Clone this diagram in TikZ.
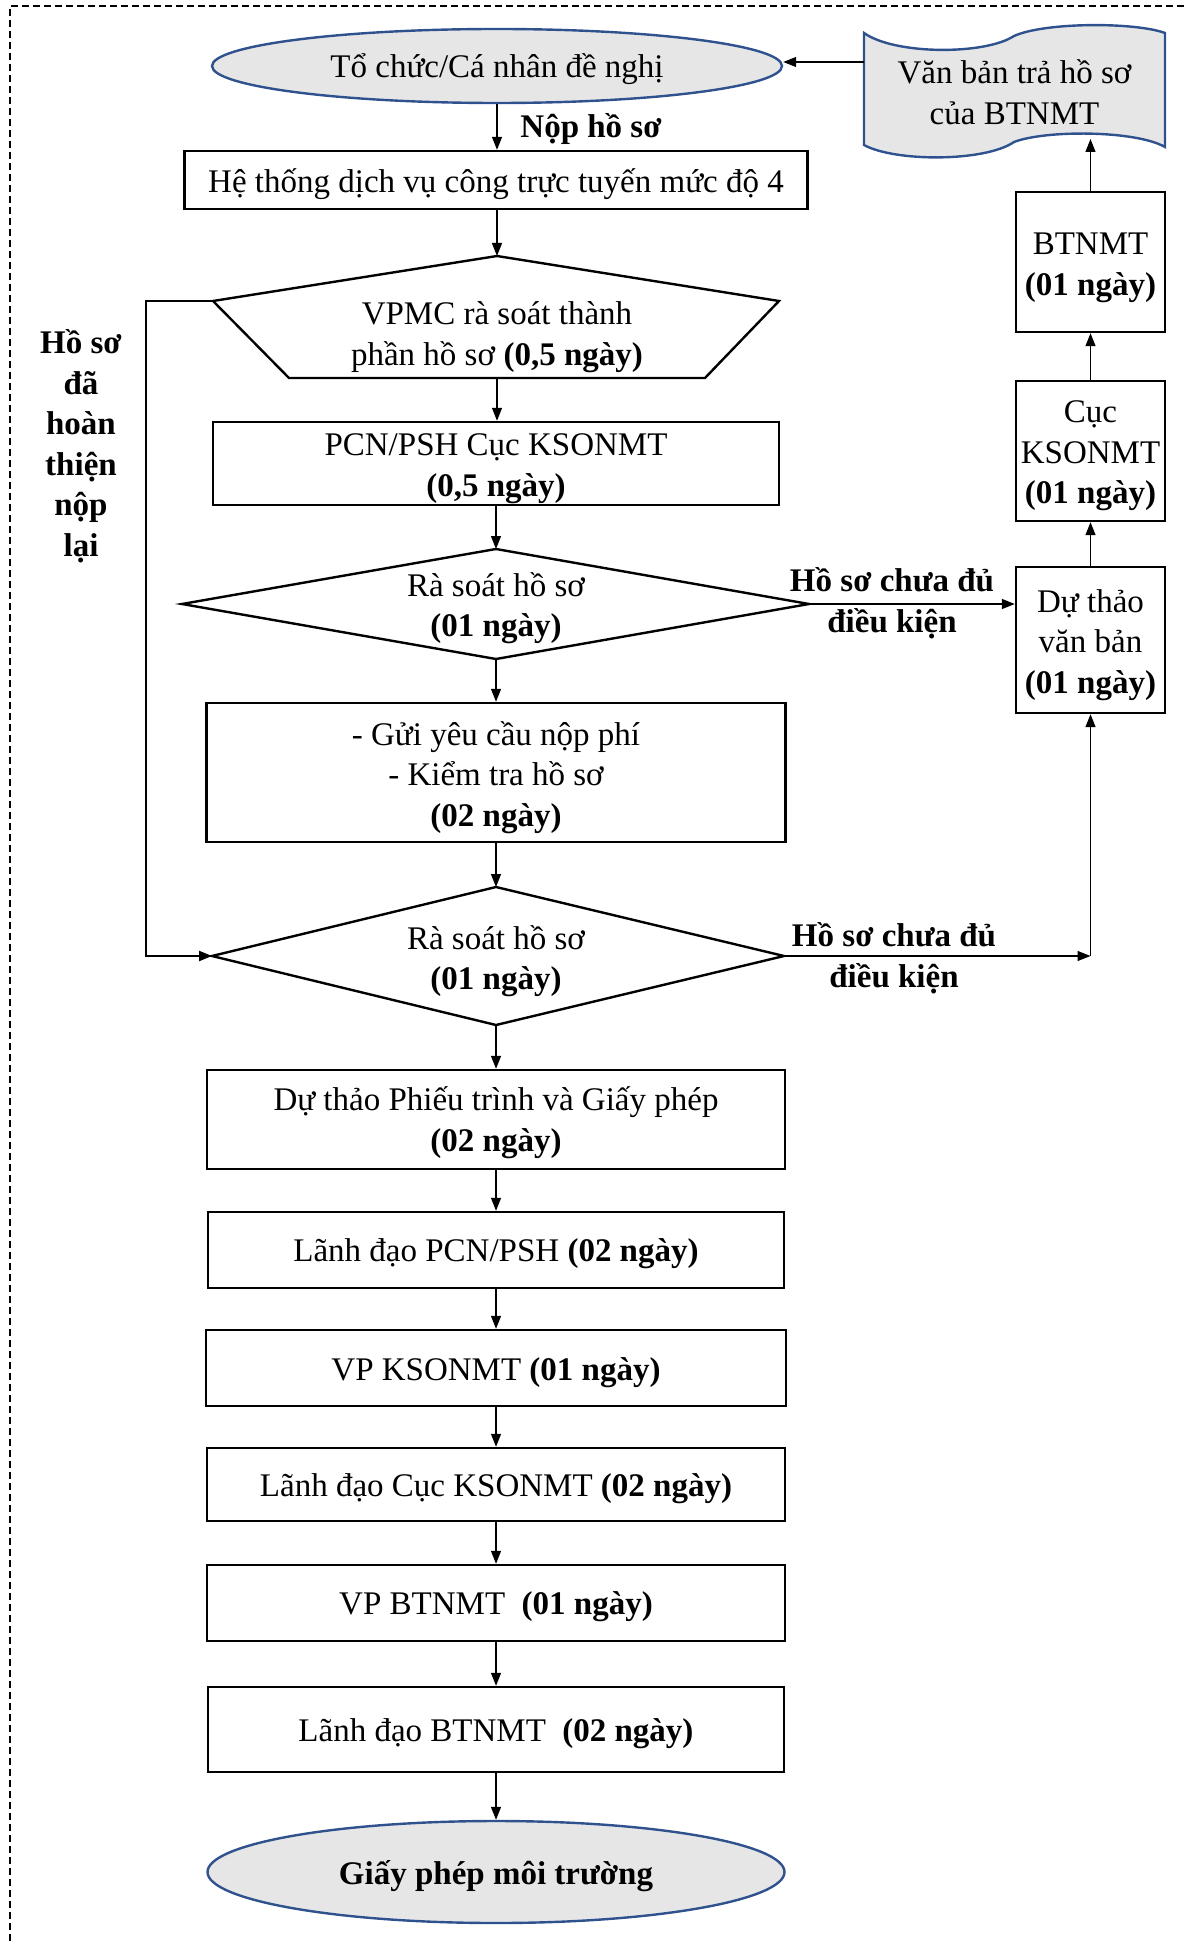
\documentclass[tikz,border=0pt]{standalone}
\usepackage{fontspec}
\setmainfont{Liberation Serif}
\usetikzlibrary{arrows.meta,shapes.geometric}
\definecolor{ellfill}{RGB}{230,230,230}
\definecolor{ellline}{RGB}{47,82,143}
\begin{document}
\begin{tikzpicture}[x=1pt,y=-1pt,
  every node/.style={font=\fontsize{33}{40.5}\selectfont, align=center, inner sep=0pt},
  box/.style={draw, line width=2.4pt, rectangle},
  ell/.style={ellipse, draw=ellline, fill=ellfill, line width=2.4pt},
  shp/.style={draw, line width=2.4pt, line join=miter},
  arr/.style={line width=1.3pt, -{Triangle[length=13pt,width=10pt]}},
  loopline/.style={line width=2.2pt, -{Triangle[length=13pt,width=10pt]}},
  lbl/.style={font=\fontsize{33}{40.5}\selectfont\bfseries}
]
\useasboundingbox (0,0) rectangle (1184,1942);
\draw[line width=1.5pt, dash pattern=on 7pt off 4pt] (1184,6) -- (10,6) -- (10,1942);

% main column shapes
\node[ell, minimum width=570, minimum height=74] (org) at (497,66) {};
\node (org-t) at ([yshift=-3pt]org.center) {Tổ chức/Cá nhân đề nghị};
\node[box, minimum width=623, minimum height=58] (sys) at (496,180) {};
\node (sys-t) at ([yshift=-4pt]sys.center) {Hệ thống dịch vụ công trực tuyến mức độ 4};
\node[lbl] (nop) at (591,129) {Nộp hồ sơ};

\coordinate (pt) at (497,256);
\coordinate (pl) at (213,301);
\coordinate (pr) at (779,301);
\coordinate (pbl) at (289,378);
\coordinate (pbr) at (705,378);
\coordinate (pb) at (497,378);
\draw[shp] (pt) -- (pr) -- (pbr) -- (pbl) -- (pl) -- cycle;
\node (vpmc) at (497,337) {VPMC rà soát thành\\phần hồ sơ \textbf{(0,5 ngày)}};

\node[box, minimum width=566, minimum height=83] (pcn) at (496,463.5) {};
\node (pcn-t) at ([yshift=-5pt]pcn.center) {PCN/PSH Cục KSONMT\\\textbf{(0,5 ngày)}};

\coordinate (d1l) at (182,604);
\coordinate (d1t) at (496,549);
\coordinate (d1r) at (809,604);
\coordinate (d1b) at (496,659);
\draw[shp] (d1l) -- (d1t) -- (d1r) -- (d1b) -- cycle;
\node (d1) at (496,608) {Rà soát hồ sơ\\\textbf{(01 ngày)}};

\node[box, minimum width=579, minimum height=139] (gui) at (496,772.5) {};
\node (gui-t) at ([yshift=-5pt]gui.center) {- Gửi yêu cầu nộp phí\\- Kiểm tra hồ sơ\\\textbf{(02 ngày)}};

\coordinate (d2l) at (212,956);
\coordinate (d2t) at (496,887);
\coordinate (d2r) at (784,956);
\coordinate (d2b) at (496,1025);
\draw[shp] (d2l) -- (d2t) -- (d2r) -- (d2b) -- cycle;
\node (d2) at (496,961) {Rà soát hồ sơ\\\textbf{(01 ngày)}};

\node[box, minimum width=578, minimum height=99] (dtp) at (496,1119.5) {};
\node (dtp-t) at ([yshift=-3pt]dtp.center) {Dự thảo Phiếu trình và Giấy phép\\\textbf{(02 ngày)}};
\node[box, minimum width=576, minimum height=76] (ldpcn) at (496,1250) {};
\node (ldpcn-t) at ([yshift=-4pt]ldpcn.center) {Lãnh đạo PCN/PSH \textbf{(02 ngày)}};
\node[box, minimum width=580, minimum height=76] (vpks) at (496,1368) {};
\node (vpks-t) at ([yshift=-5pt]vpks.center) {VP KSONMT \textbf{(01 ngày)}};
\node[box, minimum width=578, minimum height=73] (ldcuc) at (496,1484.5) {};
\node (ldcuc-t) at ([yshift=-4pt]ldcuc.center) {Lãnh đạo Cục KSONMT \textbf{(02 ngày)}};
\node[box, minimum width=578, minimum height=76] (vpbt) at (496,1603) {};
\node (vpbt-t) at ([yshift=-4pt]vpbt.center) {VP BTNMT\ \ \textbf{(01 ngày)}};
\node[box, minimum width=576, minimum height=85] (ldbt) at (496,1729.5) {};
\node (ldbt-t) at ([yshift=-4pt]ldbt.center) {Lãnh đạo BTNMT\ \ \textbf{(02 ngày)}};
\node[ell, minimum width=577, minimum height=102] (gp) at (496,1872) {};
\node (gp-t) at ([yshift=-4pt]gp.center) {\textbf{Giấy phép môi trường}};

% main arrows
\draw[arr] (org.south) -- (org.south |- sys.north);
\draw[arr] (sys.south -| pt) -- (pt);
\draw[arr] (pb) -- (pb |- pcn.north);
\draw[arr] (pcn.south) -- (d1t);
\draw[arr] (d1b) -- (gui.north);
\draw[arr] (gui.south) -- (d2t);
\draw[arr] (d2b) -- (dtp.north);
\draw[arr] (dtp.south) -- (ldpcn.north);
\draw[arr] (ldpcn.south) -- (vpks.north);
\draw[arr] (vpks.south) -- (ldcuc.north);
\draw[arr] (ldcuc.south) -- (vpbt.north);
\draw[arr] (vpbt.south) -- (ldbt.north);
\draw[arr] (ldbt.south) -- (gp.north);

% left loop
\coordinate (lc1) at (146,301);
\coordinate (lc2) at (146,956);
\draw[loopline] (pl) -- (lc1) -- (lc2) -- (d2l);
\node[lbl] (loopl) at (81,446) {Hồ sơ\\đã\\hoàn\\thiện\\nộp\\lại};

% right column
\draw[ellline, fill=ellfill, line width=2.4pt]
  (864,33) .. controls (895,55) and (985,55) .. (1014,36)
  .. controls (1045,22) and (1135,22) .. (1165,33)
  -- (1165,147) .. controls (1135,130) and (1045,130) .. (1014,142)
  .. controls (985,162) and (895,162) .. (864,145) -- cycle;
\node (doc) at (1014.5,92) {Văn bản trả hồ sơ\\của BTNMT};

\node[box, minimum width=149, minimum height=140] (btnmt) at (1090.5,262) {};
\node (btnmt-t) at ([yshift=-6pt]btnmt.center) {BTNMT\\\textbf{(01 ngày)}};
\node[box, minimum width=149, minimum height=140] (cuc) at (1090.5,451) {};
\node (cuc-t) at ([yshift=-5pt]cuc.center) {Cục\\KSONMT\\\textbf{(01 ngày)}};
\node[box, minimum width=149, minimum height=146] (dtvb) at (1090.5,640) {};
\node (dtvb-t) at ([yshift=-5pt]dtvb.center) {Dự thảo\\văn bản\\\textbf{(01 ngày)}};

\coordinate (docw) at (864,62);
\coordinate (docb) at (1090.5,139);
\draw[arr] (docw) -- (docw -| org.east);
\draw[arr] (btnmt.north) -- (docb);
\draw[arr] (cuc.north) -- (btnmt.south);
\draw[arr] (dtvb.north) -- (cuc.south);

\draw[arr] (d1r) -- (d1r -| dtvb.west);
\node[lbl] (lab1) at (892,603) {Hồ sơ chưa đủ\\điều kiện};

\coordinate (c2) at (1090.5,956);
\draw[arr] (d2r) -- (c2);
\draw[arr] (c2) -- (dtvb.south);
\node[lbl] (lab2) at (894,958) {Hồ sơ chưa đủ\\điều kiện};
\end{tikzpicture}
\end{document}
